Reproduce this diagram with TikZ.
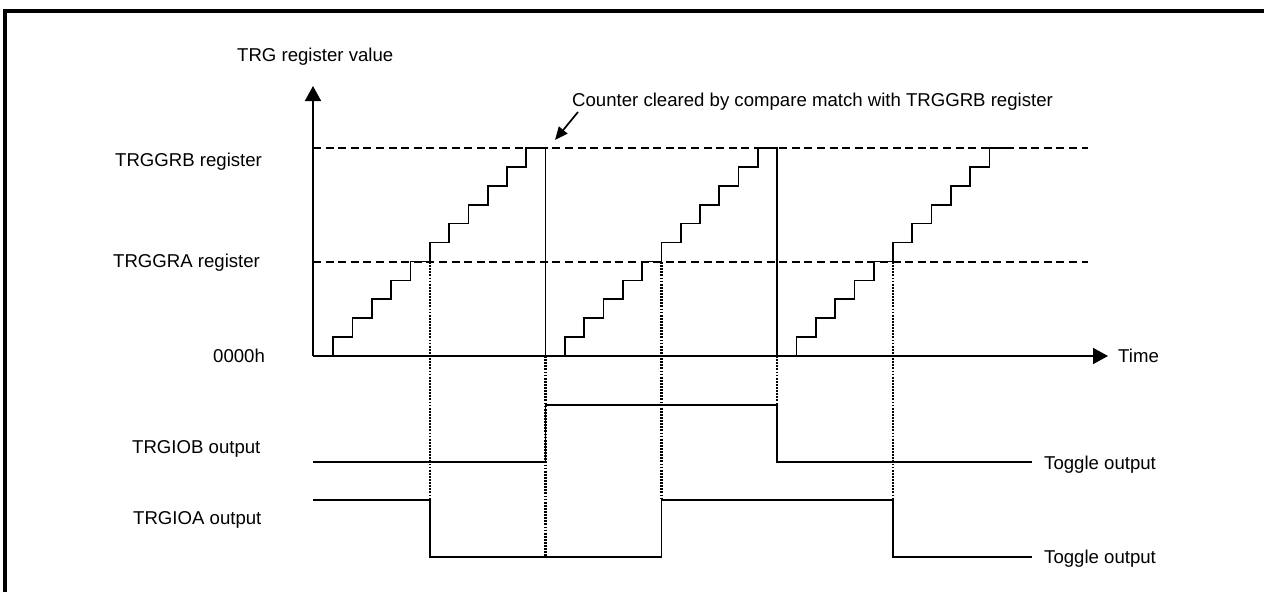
\documentclass[tikz,border=0pt]{standalone}
\usepackage{fontspec}
\setmainfont{Liberation Sans}
\usetikzlibrary{arrows.meta}
\begin{document}
\begin{tikzpicture}[x=1pt,y=-1pt,
  lab/.style={inner sep=0pt, text height=13.3pt, text depth=0pt, anchor=west, font=\fontsize{18.6}{22}\selectfont},
  sig/.style={line width=1.7pt, line join=miter},
  refline/.style={line width=2.6pt, dash pattern=on 8pt off 4.6pt},
  guide/.style={line width=2.4pt, dash pattern=on 1.8pt off 1.3pt},
  axisarrow/.style={line width=1.7pt, -{Triangle[length=15pt,width=16pt]}},
  callout/.style={line width=1.7pt, -{Triangle[length=13pt,width=11pt]}},
]
\useasboundingbox (0,0) rectangle (1264,592);
% frame
\draw[line width=3.4pt, line join=miter] (1264,11) -- (5,11) -- (5,592);

\def\w{19.3}
\def\h{18.909}

% coordinates
\coordinate (O) at (313,356);
\coordinate (ytop) at (313,86);
\coordinate (xend) at (1108,356);
\coordinate (Bl) at (313,148);
\coordinate (Br) at (1088,148);
\coordinate (Al) at (313,262);
\coordinate (Ar) at (1088,262);

% reference levels
\draw[refline] (Bl) -- (Br);
\draw[refline] (Al) -- (Ar);

% axes
\draw[axisarrow] (O) -- (ytop);
\draw[axisarrow] (O) -- (xend);

% staircases
\draw[sig] (314,356) \foreach \k in {1,...,11} { -- ++(\w,0) -- ++(0,-\h) } -- ++(\w,0) -- ++(0,208);
\draw[sig] (545.6,356) \foreach \k in {1,...,11} { -- ++(\w,0) -- ++(0,-\h) } -- ++(\w,0) -- ++(0,208);
\draw[sig] (777.2,356) \foreach \k in {1,...,11} { -- ++(\w,0) -- ++(0,-\h) } -- ++(\w,0);

% output waveforms
\draw[sig] (313,462) -- (545.6,462) -- (545.6,405) -- (777.2,405) -- (777.2,462) -- (1032,462);
\draw[sig] (313,500) -- (429.8,500) -- (429.8,557) -- (661.4,557) -- (661.4,500) -- (893,500) -- (893,557) -- (1032,557);

% guide lines
\draw[guide] (429.8,262) -- (429.8,500);
\draw[guide] (545.6,356) -- (545.6,557);
\draw[guide] (661.4,262) -- (661.4,500);
\draw[guide] (777.2,356) -- (777.2,405);
\draw[guide] (893,262) -- (893,500);

% labels
\node[lab] (ylab) at (237,55) {TRG register value};
\node[lab] (lgrb) at (115,160) {TRGGRB register};
\node[lab] (lgra) at (113,261) {TRGGRA register};
\node[lab] (lzero) at (213,356) {0000h};
\node[lab] (liob) at (132,447) {TRGIOB output};
\node[lab] (lioa) at (133,518) {TRGIOA output};
\node[lab] (ltime) at (1118,356) {Time};
\node[lab] (tog1) at (1044,463) {Toggle output};
\node[lab] (tog2) at (1044,557) {Toggle output};
\node[lab] (note) at (572,100) {Counter cleared by compare match with TRGGRB register};

% callout arrow
\coordinate (cs) at (578,112);
\coordinate (ce) at (555,140);
\draw[callout] (cs) -- (ce);
\end{tikzpicture}
\end{document}
